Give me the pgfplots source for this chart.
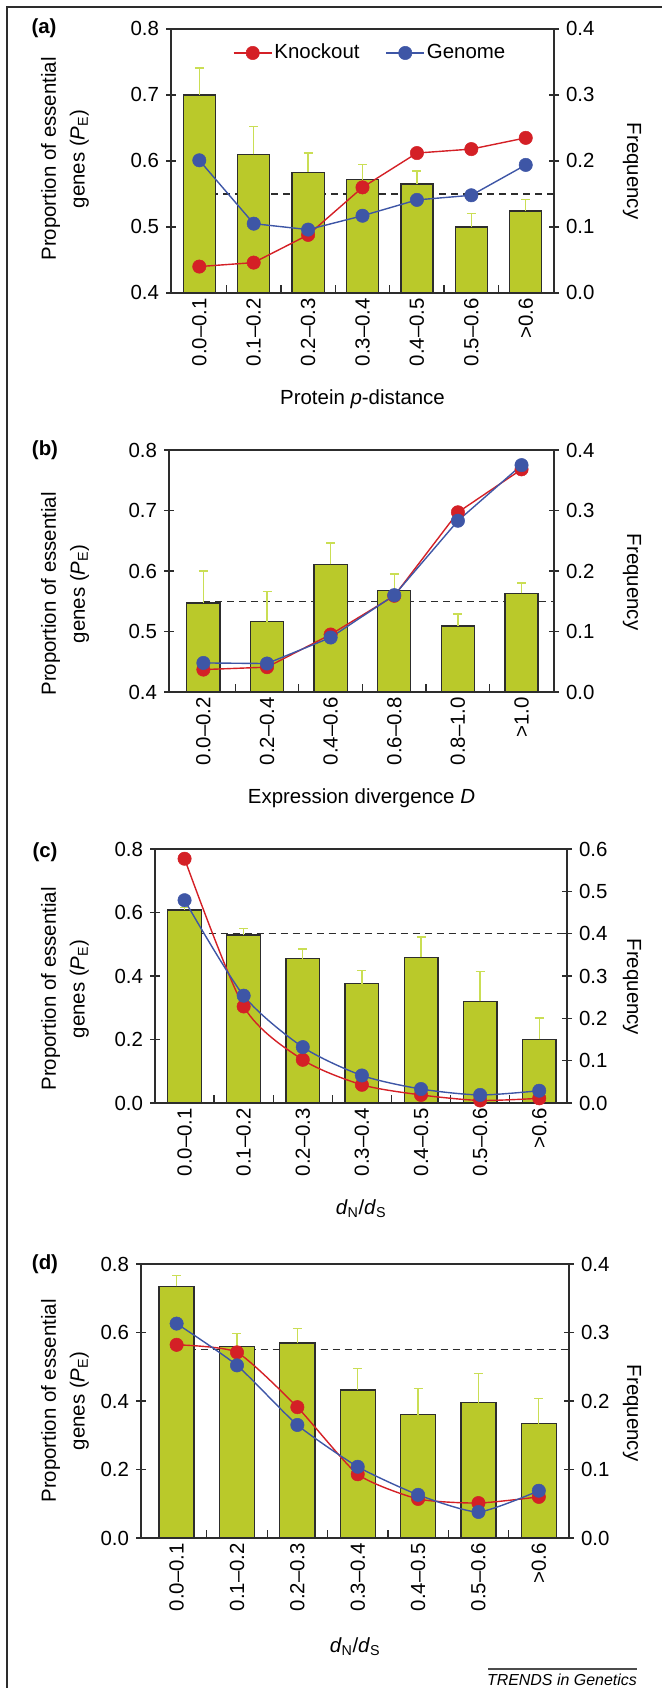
\documentclass[border=0pt]{standalone}
\usepackage{pgfplots}
\pgfplotsset{compat=1.18}
\usepackage{fontspec}
\setmainfont{Liberation Sans}
\definecolor{barc}{RGB}{186,201,42}
\definecolor{errc}{RGB}{202,222,84}
\definecolor{kored}{RGB}{212,32,38}
\definecolor{gblue}{RGB}{62,86,166}
\definecolor{axc}{RGB}{45,45,45}
\pgfplotsset{
  D/.style={scale only axis, anchor=south west, hide axis, clip=false},
  L/.style={scale only axis, anchor=south west, clip=true,
    axis line style={line width=1.3bp, axc},
    tick style={line width=1.3bp, axc},
    tick align=center, major tick length=10bp, minor tick length=8bp,
    xtick pos=bottom, ytick pos=left,
    major x tick style={draw=none},
    minor x tick style={yshift=4bp},
    xticklabel style={rotate=90, anchor=east, inner sep=0pt},
    /pgf/number format/assume math mode=true,
    yticklabel style={/pgf/number format/fixed, /pgf/number format/fixed zerofill, /pgf/number format/precision=1},
    ylabel style={anchor=center, align=center, font=\fontsize{20.5}{29}\selectfont},
    xlabel style={at={(axis description cs:0.5,0)}, anchor=center, yshift=-106bp},
  },
  R/.style={scale only axis, anchor=south west, clip=false,
    axis y line*=right, axis x line=none,
    axis line style={line width=1.3bp, axc},
    tick style={line width=1.3bp, axc},
    tick align=center, major tick length=10bp,
    /pgf/number format/assume math mode=true,
    yticklabel style={/pgf/number format/fixed, /pgf/number format/fixed zerofill, /pgf/number format/precision=1},
    ylabel style={anchor=center, rotate=180},
  },
  dashref/.style={axc, line width=1.4bp, dash pattern=on 7bp off 5bp},
  barsty/.style={ybar, fill=barc, draw=axc, line width=1.3bp,
    error bars/y dir=plus, error bars/y explicit,
    error bars/error bar style={line width=1.3bp, color=errc},
    error bars/error mark options={line width=1.3bp, color=errc, mark size=4.5bp, rotate=90}},
  ko/.style={color=kored, line width=1.4bp, mark=*, mark size=6.7bp, mark options={fill=kored, draw=kored, line width=0.5bp}},
  ge/.style={color=gblue, line width=1.4bp, mark=*, mark size=6.7bp, mark options={fill=gblue, draw=gblue, line width=0.5bp}},
}
\begin{document}
\fontsize{20.5}{24}\selectfont
\begin{tikzpicture}[x=1bp,y=1bp]
\useasboundingbox (0,0) rectangle (662,1688);
\draw[line width=2bp, axc] (7,0) -- (7,1681) -- (662,1681);

% ---------------- (a)
\begin{axis}[D, at={(171bp,1395bp)}, width=383bp, height=264bp,
  xmin=-0.52, xmax=6.52, ymin=0.4, ymax=0.8]
\addplot[dashref] coordinates {(0,0.55) (6.52,0.55)};
\end{axis}
\begin{axis}[L, at={(171bp,1395bp)}, width=383bp, height=264bp,
  xmin=-0.52, xmax=6.52, ymin=0.4, ymax=0.8, ytick={0.4,0.5,0.6,0.7,0.8},
  xtick={0,1,2,3,4,5,6}, minor xtick={0.5,1.5,2.5,3.5,4.5,5.5},
  xticklabels={0.0–0.1,0.1–0.2,0.2–0.3,0.3–0.4,0.4–0.5,0.5–0.6,>0.6},
  ylabel={Proportion of essential\\genes (\textit{P}\textsubscript{E})},
  ylabel style={at={(axis description cs:-0.2768,0.5076)}},
  xlabel={Protein \textit{p}-distance}]
\addplot[bar width=0.59, barsty] table[x=x, y=y, y error=e] {
x y e
0 0.700 0.041
1 0.610 0.042
2 0.583 0.029
3 0.5715 0.023
4 0.565 0.020
5 0.500 0.020
6 0.524 0.018
};
\end{axis}
\begin{axis}[R, at={(171bp,1395bp)}, width=383bp, height=264bp,
  xmin=-0.52, xmax=6.52, ymin=0, ymax=0.4, ytick={0,0.1,0.2,0.3,0.4},
  ylabel={Frequency},
  ylabel style={at={(axis description cs:1.2037,0.462)}},
  legend style={at={(axis description cs:0.52,0.909)}, anchor=center, draw=none, fill=none,
    legend columns=2, /tikz/every even column/.append style={column sep=24bp}},
  legend image code/.code={\draw[#1, mark repeat=2, mark phase=2] plot coordinates {(0bp,0bp) (19bp,0bp) (38bp,0bp)};}]
\addplot[ko] coordinates {(0,0.040) (1,0.046) (2,0.088) (3,0.160) (4,0.212) (5,0.218) (6,0.235)};
\addplot[ge] coordinates {(0,0.201) (1,0.105) (2,0.096) (3,0.117) (4,0.141) (5,0.148) (6,0.194)};
\legend{Knockout,Genome}
\end{axis}
\node[font=\bfseries] at (44,1660) {(a)};

% ---------------- (b)
\begin{axis}[D, at={(169bp,996bp)}, width=385bp, height=242bp,
  xmin=-0.54, xmax=5.51, ymin=0.4, ymax=0.8]
\addplot[dashref] coordinates {(0,0.55) (5.51,0.55)};
\end{axis}
\begin{axis}[L, at={(169bp,996bp)}, width=385bp, height=242bp,
  xmin=-0.54, xmax=5.51, ymin=0.4, ymax=0.8, ytick={0.4,0.5,0.6,0.7,0.8},
  xtick={0,1,2,3,4,5}, minor xtick={0.5,1.5,2.5,3.5,4.5},
  xticklabels={0.0–0.2,0.2–0.4,0.4–0.6,0.6–0.8,0.8–1.0,>1.0},
  ylabel={Proportion of essential\\genes (\textit{P}\textsubscript{E})},
  ylabel style={at={(axis description cs:-0.270,0.405)}},
  xlabel={Expression divergence \textit{D}}]
\addplot[bar width=0.52, barsty] table[x=x, y=y, y error=e] {
x y e
0 0.547 0.053
1 0.516 0.050
2 0.611 0.035
3 0.568 0.027
4 0.509 0.020
5 0.563 0.017
};
\end{axis}
\begin{axis}[R, at={(169bp,996bp)}, width=385bp, height=242bp,
  xmin=-0.54, xmax=5.51, ymin=0, ymax=0.4, ytick={0,0.1,0.2,0.3,0.4},
  ylabel={Frequency},
  ylabel style={at={(axis description cs:1.2026,0.4545)}}]
\addplot[ko] coordinates {(0,0.037) (1,0.041) (2,0.095) (3,0.159) (4,0.297) (5,0.368)};
\addplot[ge] coordinates {(0,0.048) (1,0.047) (2,0.090) (3,0.160) (4,0.283) (5,0.375)};
\end{axis}
\node[font=\bfseries] at (45,1238) {(b)};

% ---------------- (c)
\begin{axis}[D, at={(155bp,585bp)}, width=412bp, height=254bp,
  xmin=-0.5, xmax=6.47, ymin=0, ymax=0.8]
\addplot[dashref] coordinates {(0,0.5333) (6.47,0.5333)};
\end{axis}
\begin{axis}[L, at={(155bp,585bp)}, width=412bp, height=254bp,
  xmin=-0.5, xmax=6.47, ymin=0, ymax=0.8, ytick={0,0.2,0.4,0.6,0.8},
  xtick={0,1,2,3,4,5,6}, minor xtick={0.5,1.5,2.5,3.5,4.5,5.5},
  xticklabels={0.0–0.1,0.1–0.2,0.2–0.3,0.3–0.4,0.4–0.5,0.5–0.6,>0.6},
  ylabel={Proportion of essential\\genes (\textit{P}\textsubscript{E})},
  ylabel style={at={(axis description cs:-0.2184,0.449)}},
  xlabel={\textit{d}\textsubscript{N}/\textit{d}\textsubscript{S}}]
\addplot[bar width=0.57, barsty] table[x=x, y=y, y error=e] {
x y e
0 0.608 0.008
1 0.529 0.021
2 0.455 0.030
3 0.376 0.042
4 0.459 0.064
5 0.320 0.094
6 0.2005 0.0675
};
\end{axis}
\begin{axis}[R, at={(155bp,585bp)}, width=412bp, height=254bp,
  xmin=-0.5, xmax=6.47, ymin=0, ymax=0.6, ytick={0,0.1,0.2,0.3,0.4,0.5,0.6},
  ylabel={Frequency},
  ylabel style={at={(axis description cs:1.1578,0.457)}}]
\addplot[ko, smooth, tension=0.45] coordinates {(0,0.577) (1,0.228) (2,0.102) (3,0.043) (4,0.019) (5,0.006) (6,0.011)};
\addplot[ge, smooth, tension=0.45] coordinates {(0,0.479) (1,0.2535) (2,0.132) (3,0.065) (4,0.033) (5,0.019) (6,0.029)};
\end{axis}
\node[font=\bfseries] at (45,836) {(c)};

% ---------------- (d)
\begin{axis}[D, at={(141bp,150bp)}, width=428bp, height=274bp,
  xmin=-0.59, xmax=6.5, ymin=0, ymax=0.8]
\addplot[dashref] coordinates {(0,0.55) (6.5,0.55)};
\end{axis}
\begin{axis}[L, at={(141bp,150bp)}, width=428bp, height=274bp,
  xmin=-0.59, xmax=6.5, ymin=0, ymax=0.8, ytick={0,0.2,0.4,0.6,0.8},
  xtick={0,1,2,3,4,5,6}, minor xtick={0.5,1.5,2.5,3.5,4.5,5.5},
  xticklabels={0.0–0.1,0.1–0.2,0.2–0.3,0.3–0.4,0.4–0.5,0.5–0.6,>0.6},
  ylabel={Proportion of essential\\genes (\textit{P}\textsubscript{E})},
  ylabel style={at={(axis description cs:-0.1776,0.5)}},
  xlabel={\textit{d}\textsubscript{N}/\textit{d}\textsubscript{S}},
  xlabel style={yshift=-3bp}]
\addplot[bar width=0.58, barsty] table[x=x, y=y, y error=e] {
x y e
0 0.735 0.032
1 0.560 0.038
2 0.569 0.043
3 0.432 0.062
4 0.360 0.077
5 0.395 0.085
6 0.334 0.073
};
\end{axis}
\begin{axis}[R, at={(141bp,150bp)}, width=428bp, height=274bp,
  xmin=-0.59, xmax=6.5, ymin=0, ymax=0.4, ytick={0,0.1,0.2,0.3,0.4},
  ylabel={Frequency},
  ylabel style={at={(axis description cs:1.147,0.456)}}]
\addplot[ko, smooth, tension=0.35] coordinates {(0,0.282) (1,0.271) (2,0.191) (3,0.093) (4,0.057) (5,0.051) (6,0.060)};
\addplot[ge, smooth, tension=0.35] coordinates {(0,0.313) (1,0.252) (2,0.165) (3,0.104) (4,0.063) (5,0.038) (6,0.069)};
\end{axis}
\node[font=\bfseries] at (45,424) {(d)};

\draw[line width=1.2bp, black!70] (488,19) -- (637,19);
\node[font=\fontsize{16}{19}\selectfont\itshape, anchor=base east, inner sep=0pt] at (637,2) {TRENDS in Genetics};
\end{tikzpicture}
\end{document}
